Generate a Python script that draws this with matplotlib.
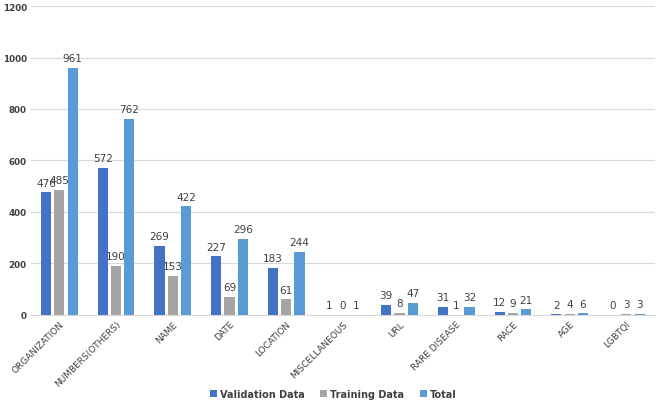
import matplotlib
matplotlib.use("Agg")
import matplotlib.pyplot as plt
import numpy as np

categories = ["ORGANIZATION", "NUMBERS(OTHERS)", "NAME", "DATE", "LOCATION",
              "MISCELLANEOUS", "URL", "RARE DISEASE", "RACE", "AGE", "LGBTQI"]
validation = [476, 572, 269, 227, 183, 1, 39, 31, 12, 2, 0]
training = [485, 190, 153, 69, 61, 0, 8, 1, 9, 4, 3]
total = [961, 762, 422, 296, 244, 1, 47, 32, 21, 6, 3]
series_names = ["Validation Data", "Training Data", "Total"]
colors = ["#4472C4", "#A5A5A5", "#5B9BD5"]

fig = plt.figure(figsize=(6.6, 4.14), dpi=100)
ax = fig.add_axes([0.047, 0.237, 0.945, 0.746])

x = np.arange(len(categories))
w = 0.18
step = 0.235
for i, (vals, name, c) in enumerate(zip([validation, training, total], series_names, colors)):
    pos = x + (i - 1) * step
    ax.bar(pos, vals, width=w, color=c, label=name, zorder=3)
    for p, v in zip(pos, vals):
        ax.text(p, v + 18, str(v), ha="center", va="bottom", fontsize=7.5, color="#404040")

ax.set_xlim(-0.5, len(categories) - 0.5)
ax.set_ylim(0, 1200)
ax.set_yticks(range(0, 1201, 200))
ax.yaxis.grid(True, color="#D9D9D9", linewidth=0.8, zorder=0)
for s in ["top", "right", "left"]:
    ax.spines[s].set_visible(False)
ax.spines["bottom"].set_color("#D9D9D9")
ax.tick_params(axis="y", length=0, labelsize=6.3, colors="#404040", pad=3)
ax.tick_params(axis="x", length=0, pad=3)
ax.set_xticks(x)
ax.set_xticklabels(categories, rotation=45, ha="right", rotation_mode="anchor", fontsize=6.5, color="#404040")
for lbl in ax.get_yticklabels():
    lbl.set_fontweight("bold")

handles, labels = ax.get_legend_handles_labels()
leg = fig.legend(handles, labels, loc="center", bbox_to_anchor=(0.505, 0.046), ncol=3, frameon=False,
                 handlelength=0.7, handleheight=0.7, columnspacing=1.6,
                 handletextpad=0.3, prop={"weight": "bold", "size": 7})
for t in leg.get_texts():
    t.set_color("#404040")

fig.savefig("out.png", dpi=100)
